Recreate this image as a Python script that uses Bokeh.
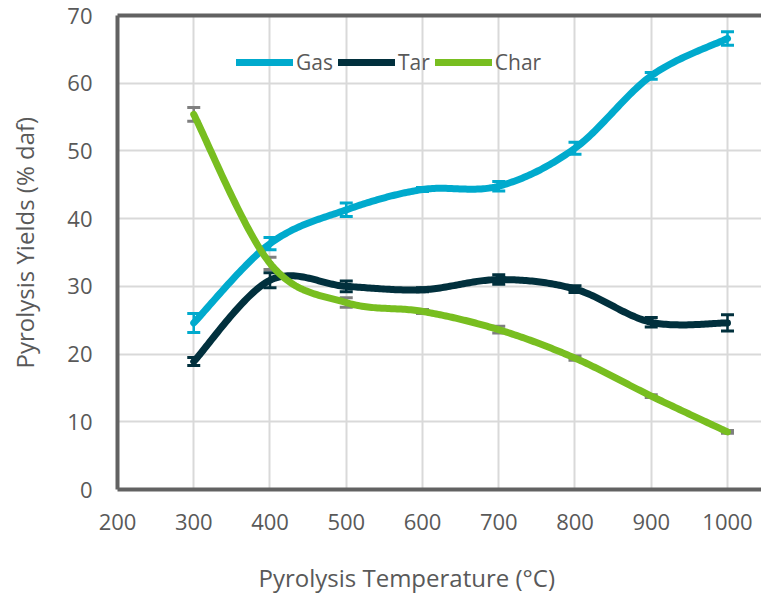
import numpy as np
from bokeh.plotting import figure
from bokeh.models import (ColumnDataSource, Whisker, TeeHead, Legend, LegendItem,
                          LinearAxis, FixedTicker, Title, Range1d, ColorBar,
                          LinearColorMapper)
from bokeh.embed import file_html
from bokeh.resources import INLINE

# ---------------- data ----------------
temps = [300, 400, 500, 600, 700, 800, 900, 1000]
gas = [24.6, 36.3, 41.3, 44.3, 44.8, 50.4, 61.1, 66.6]
gas_err = [1.4, 0.9, 1.0, 0.3, 0.7, 0.9, 0.5, 1.0]
tar = [18.9, 30.9, 30.0, 29.5, 31.0, 29.6, 24.7, 24.6]
tar_err = [0.6, 1.1, 0.8, 0.3, 0.7, 0.5, 0.7, 1.2]
char = [55.4, 33.4, 27.6, 26.3, 23.6, 19.4, 13.8, 8.5]
char_err = [1.0, 0.9, 0.7, 0.3, 0.5, 0.3, 0.2, 0.2]
x_ticks = [200, 300, 400, 500, 600, 700, 800, 900, 1000]
y_ticks = [0, 10, 20, 30, 40, 50, 60, 70]
x_title = "Pyrolysis Temperature (°C)"
y_title = "Pyrolysis Yields (% daf)"

GAS_C = "#00AACD"
TAR_C = "#01303D"
CHAR_C = "#78BE20"
ERR_GRAY = "#7F7F7F"
TXT = "#595959"
FONT = "Open Sans"


def smooth(xs, ys, n=40):
    """Excel-like smoothed line: cubic Bezier (Catmull-Rom) through the points."""
    xs = np.asarray(xs, float)
    ys = np.asarray(ys, float)
    m = len(xs)
    ox, oy = [], []
    t = np.linspace(0, 1, n)
    for i in range(m - 1):
        i0 = max(i - 1, 0)
        i3 = min(i + 2, m - 1)
        p1 = np.array([xs[i], ys[i]])
        p2 = np.array([xs[i + 1], ys[i + 1]])
        p0 = np.array([xs[i0], ys[i0]])
        p3 = np.array([xs[i3], ys[i3]])
        c1 = p1 + (p2 - p0) / 6.0
        c2 = p2 - (p3 - p1) / 6.0
        tt = t if i == 0 else t[1:]
        b = ((1 - tt) ** 3)[:, None] * p1 + (3 * (1 - tt) ** 2 * tt)[:, None] * c1 \
            + (3 * (1 - tt) * tt ** 2)[:, None] * c2 + (tt ** 3)[:, None] * p2
        ox.extend(b[:, 0])
        oy.extend(b[:, 1])
    return ox, oy


p = figure(width=761, height=593, output_backend="svg", toolbar_location=None,
           x_range=Range1d(200, 1044.6), y_range=Range1d(0, 70),
           min_border_left=117, min_border_right=0, min_border_top=15,
           min_border_bottom=103, background_fill_color="white",
           border_fill_color="white")
p.outline_line_color = None

# grid
p.xgrid.ticker = FixedTicker(ticks=x_ticks)
p.ygrid.ticker = FixedTicker(ticks=y_ticks)
for g in (p.xgrid, p.ygrid):
    g.grid_line_color = "#D9D9D9"
    g.grid_line_width = 2

# axes
BORDER = "#626262"
for ax in (p.xaxis[0], p.yaxis[0]):
    ax.axis_line_color = BORDER
    ax.axis_line_width = 4
    ax.major_tick_line_color = None
    ax.minor_tick_line_color = None
    ax.major_tick_out = 0
    ax.major_tick_in = 0
    ax.major_label_text_font = FONT
    ax.major_label_text_font_size = "22px"
    ax.major_label_text_color = TXT
p.xaxis[0].ticker = FixedTicker(ticks=x_ticks)
p.yaxis[0].ticker = FixedTicker(ticks=y_ticks)
p.xaxis[0].major_label_standoff = 24
p.yaxis[0].major_label_standoff = 25

top_ax = LinearAxis(ticker=FixedTicker(ticks=[]), axis_line_color=BORDER,
                    axis_line_width=4, major_tick_line_color=None,
                    minor_tick_line_color=None, major_tick_out=0, major_tick_in=0,
                    major_label_text_font_size="0px", major_label_standoff=0)
p.add_layout(top_ax, "above")


def spacer(thick, horizontal):
    # an invisible, label-less colour bar used only to reserve space
    kw = dict(height=thick) if horizontal else dict(width=thick)
    return ColorBar(color_mapper=LinearColorMapper(palette=["#ffffff"], low=0, high=1),
                    orientation="horizontal" if horizontal else "vertical",
                    ticker=FixedTicker(ticks=[]), major_label_text_font_size="0px",
                    major_tick_line_color=None, minor_tick_line_color=None,
                    major_tick_out=0, major_tick_in=0, label_standoff=0,
                    bar_line_color=None, border_line_color=None,
                    background_fill_alpha=0, scale_alpha=0, padding=0, margin=0,
                    title=None, **kw)


p.add_layout(spacer(24, False), "left")
p.add_layout(spacer(26, True), "below")

# axis titles
ytitle = Title(text=y_title, align="left", text_font=FONT,
               text_font_size="24px", text_font_style="normal", text_color=TXT,
               standoff=0, offset=121)
p.add_layout(ytitle, "left")
xtitle = Title(text=x_title, align="left", text_font=FONT,
               text_font_size="24px", text_font_style="normal", text_color=TXT,
               standoff=0, offset=141)
p.add_layout(xtitle, "below")

# lines
series = [("Gas", gas, gas_err, GAS_C, GAS_C),
          ("Tar", tar, tar_err, TAR_C, TAR_C),
          ("Char", char, char_err, CHAR_C, ERR_GRAY)]
renderers = []
for name, vals, errs, col, ecol in series:
    sx, sy = smooth(temps, vals)
    r = p.line(sx, sy, line_color=col, line_width=7, line_cap="round",
               line_join="round")
    renderers.append((name, r))

for name, vals, errs, col, ecol in series:
    src = ColumnDataSource(dict(x=temps,
                                upper=[v + e for v, e in zip(vals, errs)],
                                lower=[v - e for v, e in zip(vals, errs)]))
    w = Whisker(base="x", upper="upper", lower="lower", source=src,
                line_color=ecol, line_width=2.5,
                upper_head=TeeHead(size=13, line_color=ecol, line_width=3),
                lower_head=TeeHead(size=13, line_color=ecol, line_width=3))
    p.add_layout(w)

legend = Legend(items=[LegendItem(label=n, renderers=[r]) for n, r in renderers],
                orientation="horizontal", location=(119, 413),
                glyph_width=57, glyph_height=20, label_standoff=3, spacing=5,
                padding=0, margin=0, border_line_alpha=0, background_fill_alpha=0,
                label_text_font=FONT, label_text_font_size="21px",
                label_text_color=TXT)
p.add_layout(legend)

open("out.html", "w").write(file_html(p, INLINE))
